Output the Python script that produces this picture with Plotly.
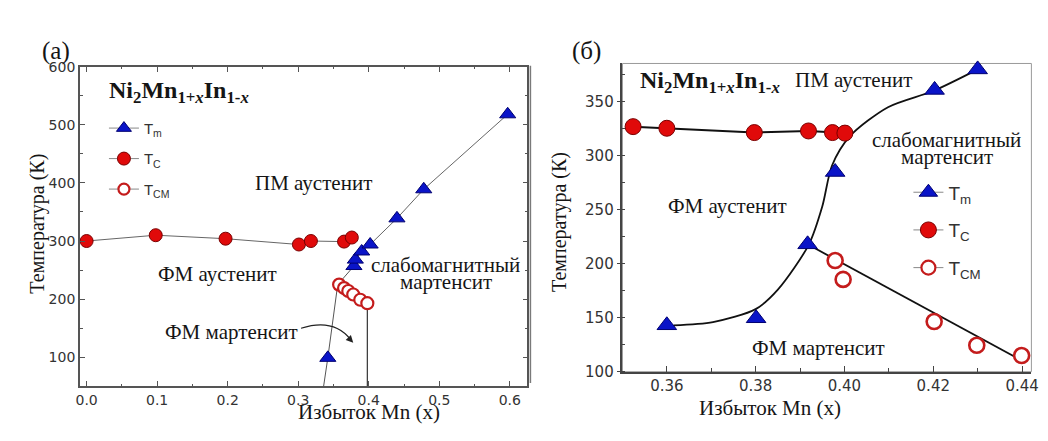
import plotly.graph_objects as go

W, H = 1048, 441

# ---------------- data: panel (a) ----------------
TC_A_X = [0.0, 0.098, 0.197, 0.301, 0.318, 0.365, 0.376]
TC_A_Y = [300, 310, 304, 294, 300, 299, 306]

TM_A_X = [0.379, 0.381, 0.390, 0.402, 0.440, 0.478, 0.597]
TM_A_Y = [257, 268, 282, 294, 339, 389, 518]
TM_A_LOW_X = [0.342]
TM_A_LOW_Y = [99]
# boundary guide of the lower Tm branch
TM_A_GUIDE_X = [0.336, 0.342, 0.356, 0.379]
TM_A_GUIDE_Y = [50, 99, 225, 257]

TCM_A_X = [0.358, 0.365, 0.371, 0.378, 0.388, 0.398]
TCM_A_Y = [225, 219, 214, 208, 199, 193]
VERT_A_X = [0.398, 0.398]
VERT_A_Y = [193, 50]

XTICKS_A = [0.0, 0.1, 0.2, 0.3, 0.4, 0.5, 0.6]
XTICKTEXT_A = ["0.0", "0.1", "0.2", "0.3", "0.4", "0.5", "0.6"]
YTICKS_A = [100, 200, 300, 400, 500, 600]

# ---------------- data: panel (б) ----------------
TC_B_X = [0.3524, 0.360, 0.3797, 0.3919, 0.3973, 0.4001]
TC_B_Y = [327, 325.5, 321.5, 323, 321.5, 321]

TM_B_X = [0.360, 0.3801, 0.3917, 0.3979, 0.4203, 0.430]
TM_B_Y = [143, 149.5, 218, 285, 361, 380]
TM_B_CURVE_X = [0.3615, 0.3704, 0.380, 0.385, 0.392, 0.395, 0.3972, 0.4012, 0.4098, 0.420, 0.430]
TM_B_CURVE_Y = [143, 146, 158, 176, 218, 253, 291, 318, 345, 360, 380]

TCM_B_X = [0.3979, 0.3997, 0.4202, 0.4298, 0.4399]
TCM_B_Y = [203, 185.5, 146.5, 124.5, 115]
TCM_B_LINE_X = [0.3917, 0.4405]
TCM_B_LINE_Y = [218, 109]

XTICKS_B = [0.36, 0.38, 0.40, 0.42, 0.44]
XTICKTEXT_B = ["0.36", "0.38", "0.40", "0.42", "0.44"]
YTICKS_B = [100, 150, 200, 250, 300, 350]

# ---------------- styles ----------------
BLUE = "#0a14c8"
BLUE_EDGE = "#000070"
RED = "#e00a0a"
RED_EDGE = "#7a0000"
OPEN_EDGE = "#c41c1c"
SERIF = "Liberation Serif"
SANS = "DejaVu Sans"
TXT = "#151515"

fig = go.Figure()

# ----- panel (a) lines -----
fig.add_trace(go.Scatter(x=TM_A_GUIDE_X, y=TM_A_GUIDE_Y, mode="lines",
                         line=dict(color="#555", width=1), showlegend=False,
                         xaxis="x", yaxis="y", hoverinfo="skip"))
fig.add_trace(go.Scatter(x=VERT_A_X, y=VERT_A_Y, mode="lines",
                         line=dict(color="#333", width=1.2), showlegend=False,
                         xaxis="x", yaxis="y", hoverinfo="skip"))
fig.add_trace(go.Scatter(x=TC_A_X, y=TC_A_Y, mode="lines+markers",
                         line=dict(color="#666", width=1),
                         marker=dict(symbol="circle", size=13, color=RED,
                                     line=dict(color=RED_EDGE, width=1)),
                         showlegend=False, xaxis="x", yaxis="y", cliponaxis=False))
fig.add_trace(go.Scatter(x=TM_A_X, y=TM_A_Y, mode="lines+markers",
                         line=dict(color="#666", width=1),
                         marker=dict(symbol="triangle-up", size=14, color=BLUE,
                                     line=dict(color=BLUE_EDGE, width=1)),
                         showlegend=False, xaxis="x", yaxis="y", cliponaxis=False))
fig.add_trace(go.Scatter(x=TM_A_LOW_X, y=TM_A_LOW_Y, mode="markers",
                         marker=dict(symbol="triangle-up", size=14, color=BLUE,
                                     line=dict(color=BLUE_EDGE, width=1)),
                         showlegend=False, xaxis="x", yaxis="y", cliponaxis=False))
fig.add_trace(go.Scatter(x=TCM_A_X, y=TCM_A_Y, mode="markers",
                         marker=dict(symbol="circle", size=12, color="white",
                                     line=dict(color=OPEN_EDGE, width=2.2)),
                         showlegend=False, xaxis="x", yaxis="y", cliponaxis=False))

# ----- panel (б) -----
fig.add_trace(go.Scatter(x=TM_B_CURVE_X, y=TM_B_CURVE_Y, mode="lines",
                         line=dict(color="#111", width=1.8, shape="spline", smoothing=0.8),
                         showlegend=False, xaxis="x2", yaxis="y2", hoverinfo="skip"))
fig.add_trace(go.Scatter(x=TCM_B_LINE_X, y=TCM_B_LINE_Y, mode="lines",
                         line=dict(color="#111", width=1.8),
                         showlegend=False, xaxis="x2", yaxis="y2", hoverinfo="skip"))
fig.add_trace(go.Scatter(x=TC_B_X, y=TC_B_Y, mode="lines+markers",
                         line=dict(color="#111", width=2),
                         marker=dict(symbol="circle", size=16, color=RED,
                                     line=dict(color=RED_EDGE, width=1)),
                         showlegend=False, xaxis="x2", yaxis="y2", cliponaxis=False))
fig.add_trace(go.Scatter(x=TM_B_X, y=TM_B_Y, mode="markers",
                         marker=dict(symbol="triangle-up", size=17, color=BLUE,
                                     line=dict(color=BLUE_EDGE, width=1)),
                         showlegend=False, xaxis="x2", yaxis="y2", cliponaxis=False))
fig.add_trace(go.Scatter(x=TCM_B_X, y=TCM_B_Y, mode="markers",
                         marker=dict(symbol="circle", size=15, color="white",
                                     line=dict(color=OPEN_EDGE, width=2.6)),
                         showlegend=False, xaxis="x2", yaxis="y2", cliponaxis=False))

# ----- legends (dummy entries) -----
LEG_NAMES = ["T<sub>m</sub>", "T<sub>C</sub>", "T<sub>CM</sub>"]
for leg, lw, msz in (("legend", 1, 13), ("legend2", 1, 16)):
    xa = "x" if leg == "legend" else "x2"
    ya = "y" if leg == "legend" else "y2"
    fig.add_trace(go.Scatter(x=[None], y=[None], mode="lines+markers", name=LEG_NAMES[0],
                             line=dict(color="#888", width=lw),
                             marker=dict(symbol="triangle-up", size=msz, color=BLUE,
                                         line=dict(color=BLUE_EDGE, width=1)),
                             legend=leg, legendgroup=leg + "a", xaxis=xa, yaxis=ya))
    fig.add_trace(go.Scatter(x=[None], y=[None], mode="lines+markers", name=LEG_NAMES[1],
                             line=dict(color="#888", width=lw),
                             marker=dict(symbol="circle", size=msz, color=RED,
                                         line=dict(color=RED_EDGE, width=1)),
                             legend=leg, legendgroup=leg + "b", xaxis=xa, yaxis=ya))
    fig.add_trace(go.Scatter(x=[None], y=[None], mode="lines+markers", name=LEG_NAMES[2],
                             line=dict(color="#888", width=lw),
                             marker=dict(symbol="circle", size=msz - 2, color="white",
                                         line=dict(color=OPEN_EDGE, width=2.2)),
                             legend=leg, legendgroup=leg + "c", xaxis=xa, yaxis=ya))


def px_x(p):
    return p / W


def px_y(p):
    return (H - p) / H


annotations = []


def txt(text, x, y, size=21, xref="x", yref="y", **kw):
    d = dict(text=text, x=x, y=y, xref=xref, yref=yref, showarrow=False,
             font=dict(family=SERIF, size=size, color=TXT))
    d.update(kw)
    annotations.append(d)


TITLE = "<b>Ni<sub>2</sub>Mn<sub>1+<i>x</i></sub>In<sub>1-<i>x</i></sub></b>"
# panel (a) texts
txt(TITLE, px_x(104), px_y(70), size=24, xref="paper", yref="paper", xanchor="left", yanchor="top")
txt("ПМ аустенит", 0.322, 400)
txt("ФМ аустенит", 0.186, 243)
txt("слабомагнитный", 0.509, 258)
txt("мартенсит", 0.509, 229)
txt("ФМ мартенсит", 0.206, 143)
annotations.append(dict(x=0.378, y=125, ax=0.371, ay=134, xref="x", yref="y",
                        axref="x", ayref="y", showarrow=True, arrowhead=2,
                        arrowsize=1.2, arrowwidth=1.2, arrowcolor="#222", text=""))
# panel (б) texts
txt(TITLE, px_x(641), px_y(59), size=24, xref="paper", yref="paper", xanchor="left", yanchor="top")
txt("ПМ аустенит", 0.4021, 370, xref="x2", yref="y2")
txt("слабомагнитный", 0.423, 315, xref="x2", yref="y2")
txt("мартенсит", 0.423, 298.5, xref="x2", yref="y2")
txt("ФМ аустенит", 0.3737, 253.7, xref="x2", yref="y2")
txt("ФМ мартенсит", 0.3942, 122, xref="x2", yref="y2")

# axis titles
txt("Температура (К)", px_x(20), px_y(224), size=20, xref="paper", yref="paper", textangle=-90)
txt("Температура (К)", px_x(562), px_y(222.5), size=20, xref="paper", yref="paper", textangle=-90)
txt("Избыток Mn (x)", px_x(295), px_y(435), size=21, xref="paper", yref="paper")
txt("Избыток Mn (x)", px_x(848), px_y(431), size=21, xref="paper", yref="paper")
# panel labels
txt("(a)", px_x(36), px_y(28), size=25, xref="paper", yref="paper")
txt("(б)", px_x(589), px_y(28), size=25, xref="paper", yref="paper")

shapes = [
    dict(type="path", xref="x", yref="y", path="M 0.304,150 Q 0.350,168 0.374,131",
         line=dict(color="#222", width=1.2)),
    dict(type="rect", xref="x2 domain", yref="y2 domain", x0=0, x1=1, y0=0, y1=1,
         line=dict(color="#9a9a9a", width=1), layer="below"),
    dict(type="line", xref="paper", yref="paper", x0=px_x(532), x1=px_x(532),
         y0=px_y(390), y1=px_y(60), line=dict(color="#7a7a7a", width=1.5)),
]

axis_a = dict(showgrid=False, zeroline=False, showline=True, linecolor="#555", linewidth=1.5,
              mirror="allticks", ticks="inside", tickcolor="#555", tickwidth=1.2,
              tickfont=dict(family=SANS, size=14, color="#333"))

fig.update_layout(
    width=W, height=H, margin=dict(l=0, r=0, t=0, b=0),
    paper_bgcolor="white", plot_bgcolor="white",
    xaxis=dict(axis_a, domain=[px_x(76.7), px_x(529)], range=[-0.0095, 0.625],
               tickvals=XTICKS_A, ticktext=XTICKTEXT_A, ticklen=6, anchor="y",
               minor=dict(dtick=0.05, tick0=0, ticks="inside", ticklen=3, tickcolor="#555")),
    yaxis=dict(axis_a, domain=[px_y(393.5), px_y(61)], range=[50, 600],
               tickvals=YTICKS_A, ticklen=5, anchor="x",
               minor=dict(dtick=50, tick0=0, ticks="inside", ticklen=3, tickcolor="#555")),
    xaxis2=dict(showgrid=False, zeroline=False, showline=True, linecolor="#444", linewidth=1.5,
                domain=[px_x(625), px_x(1038.3)], range=[0.35, 0.4421], anchor="y2",
                tickvals=XTICKS_B, ticktext=XTICKTEXT_B, ticks="inside", ticklen=6,
                tickcolor="#444", tickwidth=1.2,
                tickfont=dict(family=SANS, size=15, color="#333"),
                minor=dict(dtick=0.01, tick0=0.35, ticks="inside", ticklen=4, tickcolor="#444")),
    yaxis2=dict(showgrid=False, zeroline=False, showline=True, linecolor="#444", linewidth=1.5,
                domain=[px_y(378.3), px_y(57.7)], range=[100, 385.5], anchor="x2",
                tickvals=YTICKS_B, ticks="outside", ticklen=4, tickcolor="#444", tickwidth=1.2,
                tickfont=dict(family=SANS, size=15, color="#333"),
                minor=dict(dtick=25, tick0=0, ticks="inside", ticklen=3, tickcolor="#444")),
    legend=dict(x=px_x(101), y=px_y(108), xanchor="left", yanchor="top",
                bgcolor="rgba(0,0,0,0)", borderwidth=0, tracegroupgap=8,
                font=dict(family="Liberation Sans", size=15, color="#333"),
                itemsizing="trace"),
    legend2=dict(x=px_x(914), y=px_y(172), xanchor="left", yanchor="top",
                 bgcolor="rgba(0,0,0,0)", borderwidth=0, tracegroupgap=10,
                 font=dict(family="Liberation Sans", size=19, color="#333"),
                 itemsizing="trace"),
    annotations=annotations,
    shapes=shapes,
)

fig.write_html("out.html", config={"displayModeBar": False},
               post_script="document.body.style.margin='0';document.body.style.overflow='hidden';")
